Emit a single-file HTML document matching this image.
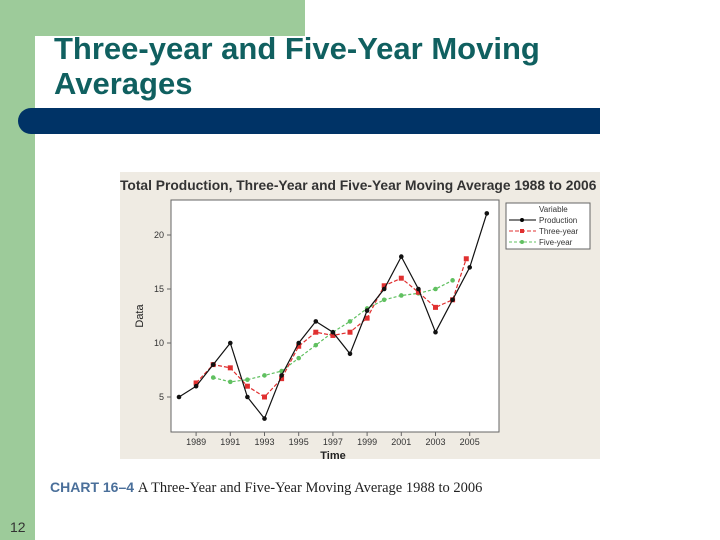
<!DOCTYPE html>
<html><head><meta charset="utf-8"><style>
body{margin:0;width:720px;height:540px;position:relative;background:#fff;overflow:hidden;font-family:"Liberation Sans",sans-serif}
.abs{position:absolute}
</style></head><body>
<div class="abs" style="left:0;top:0;width:35px;height:540px;background:#9dcb9a"></div>
<div class="abs" style="left:0;top:0;width:305px;height:36px;background:#9dcb9a"></div>
<div class="abs" style="left:35px;top:36px;width:280px;height:40px;background:#fff;border-top-left-radius:14px"></div>
<div class="abs" style="left:54px;top:31px;font-size:31px;line-height:35px;color:#106060;font-weight:bold">Three-year and Five-Year Moving<br>Averages</div>
<div class="abs" style="left:18px;top:108px;width:582px;height:26px;background:#003366;border-radius:13px 0 0 13px"></div>
<div class="abs" style="left:10px;top:519px;font-size:14px;color:#333">12</div>
<div class="abs" style="left:50px;top:479px;font-size:14px;white-space:nowrap"><span style="font-weight:bold;color:#4a6f9a">CHART 16–4</span> <span style="font-family:'Liberation Serif',serif;color:#222;font-size:14.5px">A Three-Year and Five-Year Moving Average 1988 to 2006</span></div>
<svg class="abs" style="left:0;top:0" width="720" height="540">
<rect x="120" y="172" width="480" height="287" fill="#efebe3"/>
<text x="120" y="190" font-size="13.8" font-weight="bold" fill="#333">Total Production, Three-Year and Five-Year Moving Average 1988 to 2006</text>
<rect x="171" y="200" width="328" height="232" fill="#fff" stroke="#666"/>
<text transform="translate(143,316) rotate(-90)" text-anchor="middle" font-size="11" fill="#222">Data</text>
<text x="333" y="459" text-anchor="middle" font-size="11" font-weight="bold" fill="#222">Time</text>
<g id="ticks"></g><g id="series"></g>
<g>
<rect x="506" y="203" width="84" height="46" fill="#fff" stroke="#666"/>
<text x="539" y="212" font-size="8" fill="#333">Variable</text>
<line x1="509" y1="220" x2="536" y2="220" stroke="#000"/><circle cx="522" cy="220" r="2" fill="#000"/><text x="539" y="223" font-size="8" fill="#333">Production</text>
<line x1="509" y1="231" x2="536" y2="231" stroke="#e03030" stroke-dasharray="4 2"/><rect x="520" y="229" width="4" height="4" fill="#e03030"/><text x="539" y="234" font-size="8" fill="#333">Three-year</text>
<line x1="509" y1="242" x2="536" y2="242" stroke="#60c060" stroke-dasharray="3 2"/><circle cx="522" cy="242" r="2" fill="#60c060"/><text x="539" y="245" font-size="8" fill="#333">Five-year</text>
</g>
</svg>
<script>
const years=[1988,1989,1990,1991,1992,1993,1994,1995,1996,1997,1998,1999,2000,2001,2002,2003,2004,2005,2006];
const production=[5,6,8,10,5,3,7,10,12,11,9,13,15,18,15,11,14,17,22];
const threeYearYears=[1989,1990,1991,1992,1993,1994,1995,1996,1997,1998,1999,2000,2001,2002,2003,2004,2004.8];
const threeYear=[6.3,8,7.7,6,5,6.7,9.7,11,10.7,11,12.3,15.3,16,14.7,13.3,14,17.8];
const fiveYearYears=[1990,1991,1992,1993,1994,1995,1996,1997,1998,1999,2000,2001,2002,2003,2004];
const fiveYear=[6.8,6.4,6.6,7,7.4,8.6,9.8,11,12,13.2,14,14.4,14.6,15,15.8];
const xTicks=[1989,1991,1993,1995,1997,1999,2001,2003,2005];
const yTicks=[5,10,15,20];
const X=y=>179+(y-1988)*17.1, Y=v=>397-(v-5)*10.8;
const NS="http://www.w3.org/2000/svg";
function mk(t,a,p){const e=document.createElementNS(NS,t);for(const k in a)e.setAttribute(k,a[k]);p.appendChild(e);return e;}
const tk=document.getElementById('ticks');
xTicks.forEach(t=>{mk('line',{x1:X(t),x2:X(t),y1:432,y2:436,stroke:'#666'},tk);
const tx=mk('text',{x:X(t),y:445,'text-anchor':'middle','font-size':9,fill:'#333'},tk);tx.textContent=t;

});
yTicks.forEach(t=>{mk('line',{x1:167,x2:171,y1:Y(t),y2:Y(t),stroke:'#666'},tk);
const tx=mk('text',{x:164,y:Y(t)+3,'text-anchor':'end','font-size':9,fill:'#333'},tk);tx.textContent=t;

});
const sg=document.getElementById('series');
function series(xs,vs,col,dash,name,shape){
const pl=mk('polyline',{points:xs.map((x,i)=>X(x)+','+Y(vs[i])).join(' '),fill:'none',stroke:col,'stroke-width':1.2,'stroke-dasharray':dash},sg);


xs.forEach((x,i)=>{let m;
if(shape==='sq')m=mk('rect',{x:X(x)-2.5,y:Y(vs[i])-2.5,width:5,height:5,fill:col},sg);
else m=mk('circle',{cx:X(x),cy:Y(vs[i]),r:2.3,fill:col},sg);

});
}
series(fiveYearYears,fiveYear,'#60c060','3 2','five-year','c');
series(threeYearYears,threeYear,'#e03030','4 2','three-year','sq');
series(years,production,'#111','','production','c');
</script>
</body></html>
